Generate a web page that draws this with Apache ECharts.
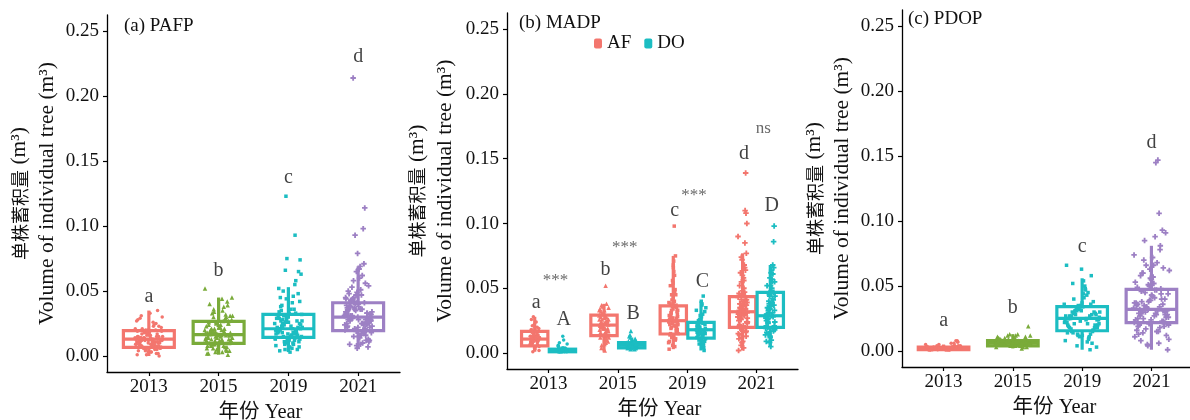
<!DOCTYPE html>
<html>
<head>
<meta charset="utf-8">
<script src="https://cdn.jsdelivr.net/npm/echarts@6/dist/echarts.min.js"></script>
<style>
html, body { margin: 0; padding: 0; background: #fff; }
#main { width: 1190px; height: 420px; }
</style>
</head>
<body>
<div id="main"></div>
<script>
// 年份与刻度
var years = ['2013', '2015', '2019', '2021'];
var yTicks = [0, 0.05, 0.10, 0.15, 0.20, 0.25];

// (a) PAFP 单株蓄积量
var pafp2013 = [0.012,0.008,0.015,0.003,0.019,0.011,0.006,0.022,0.014,0.009,0.017,0.001,0.013,0.026,0.007,0.010,0.016,0.004,0.020,0.012,0.030,0.009,0.014,0.002,0.018,0.011,0.024,0.006,0.013,0.033,0.008,0.015,0.005,0.021,0.010,0.017,0.000,0.012,0.028,0.007,0.014,0.019,0.003,0.011,0.035,0.016,0.009,0.023,0.013,0.006,0.018,0.010,0.025,0.004,0.015,0.012,0.031,0.008,0.020,0.001,
    0.010,0.014,0.007,0.016,0.012,0.005,0.018,0.009,0.013,0.021,0.011,0.006,0.015,0.008,0.019,0.012,0.003,0.014,0.010,0.017,0.027,0.009,0.013,0.006,0.016,0.011,0.002,0.020,0.014,0.008,0.012,0.023,0.010,0.015,0.005,0.018,0.013,0.009,0.029,0.011];
var pafp2015 = [0.016,0.010,0.024,0.005,0.019,0.031,0.013,0.008,0.027,0.017,0.002,0.021,0.036,0.012,0.015,0.040,0.007,0.025,0.018,0.011,0.033,0.004,0.022,0.014,0.029,0.009,0.045,0.016,0.020,0.001,0.026,0.012,0.038,0.006,0.018,0.023,0.010,0.030,0.015,0.052,0.003,0.021,0.013,0.028,0.008,0.017,0.034,0.011,0.024,0.019,0.042,0.005,0.014,0.027,0.009,0.016,0.022,0.002,0.032,0.012,
    0.014,0.020,0.009,0.025,0.016,0.006,0.019,0.030,0.012,0.022,0.017,0.004,0.026,0.013,0.035,0.018,0.010,0.024,0.015,0.007,0.021,0.028,0.011,0.017,0.039,0.014,0.023,0.008,0.019,0.031,0.012,0.026,0.016,0.003,0.020,0.044,0.013,0.025,0.010,0.018];
var pafp2019 = [0.021,0.014,0.030,0.008,0.018,0.025,0.042,0.012,0.019,0.033,0.005,0.022,0.016,0.027,0.048,0.010,0.020,0.036,0.015,0.024,0.003,0.029,0.017,0.123,0.013,0.021,0.039,0.007,0.026,0.018,0.093,0.011,0.032,0.023,0.045,0.016,0.075,0.020,0.009,0.028,0.074,0.014,0.052,0.019,0.066,0.025,0.006,0.035,0.065,0.017,0.022,0.012,0.031,0.063,0.015,0.004,0.027,0.044,0.020,0.010,
    0.018,0.025,0.013,0.031,0.020,0.009,0.027,0.016,0.038,0.022,0.012,0.029,0.017,0.050,0.021,0.007,0.034,0.019,0.026,0.014,0.041,0.023,0.011,0.030,0.018,0.055,0.024,0.015,0.036,0.020,0.005,0.028,0.017,0.046,0.022,0.013,0.033,0.019,0.058,0.026];
var pafp2021 = [0.030,0.022,0.041,0.015,0.027,0.036,0.009,0.033,0.019,0.045,0.025,0.031,0.012,0.038,0.028,0.056,0.021,0.034,0.017,0.043,0.029,0.006,0.039,0.024,0.214,0.032,0.014,0.048,0.026,0.035,0.020,0.062,0.030,0.011,0.040,0.023,0.114,0.037,0.018,0.051,0.027,0.033,0.008,0.044,0.098,0.029,0.022,0.067,0.036,0.016,0.093,0.031,0.025,0.042,0.013,0.079,0.034,0.020,0.058,0.028,0.069,0.038,0.024,0.047,0.032,0.010,0.053,0.026,
    0.028,0.035,0.021,0.042,0.030,0.016,0.038,0.025,0.049,0.033,0.019,0.044,0.027,0.060,0.031,0.012,0.040,0.024,0.036,0.029,0.054,0.022,0.037,0.018,0.045,0.032,0.009,0.039,0.026,0.065,0.034,0.020,0.043,0.030,0.015,0.050,0.028,0.036,0.023,0.047,0.031,0.007,0.041,0.025,0.071];
// 箱线: 下须, Q1, 中位数, Q3, 上须
var pafpBox = [
    [0.000, 0.0067, 0.013, 0.0195, 0.035],
    [0.001, 0.0097, 0.0165, 0.0267, 0.045],
    [0.003, 0.0144, 0.021, 0.032, 0.053],
    [0.006, 0.0195, 0.030, 0.041, 0.069]
];
var pafpLetters = ['a', 'b', 'c', 'd'];
var pafpLetterY = [0.046, 0.066, 0.137, 0.230];

// (b) MADP  AF / DO
var madpAF2013 = [0.011,0.007,0.014,0.004,0.009,0.017,0.012,0.002,0.020,0.010,0.006,0.015,0.013,0.024,0.008,0.011,0.003,0.018,0.009,0.028,0.012,0.005,0.016,0.010,0.022,0.007,0.013,0.001,0.019,0.011,0.026,0.008,0.014,0.006,0.010,0.021,
    0.010,0.013,0.008,0.015,0.011,0.005,0.012,0.018,0.009,0.014,0.007,0.011,0.016,0.010,0.004,0.013,0.020,0.009,0.012,0.017];
var madpDO2013 = [0.002,0.001,0.003,0.002,0.004,0.001,0.002,0.003,0.006,0.002,0.001,0.003,0.013,0.002,0.004,0.001,0.002,0.010,0.003,0.002,0.001,0.005,0.002,0.003,0.001,0.002,0.008,0.003,
    0.002,0.001,0.003,0.002,0.002,0.004,0.001,0.003,0.002,0.007,0.002,0.001,0.003,0.002,0.005];
var madpAF2015 = [0.022,0.015,0.028,0.010,0.019,0.033,0.024,0.006,0.017,0.030,0.021,0.013,0.036,0.026,0.002,0.020,0.014,0.031,0.018,0.052,0.023,0.009,0.027,0.016,0.038,0.021,0.012,0.029,0.004,0.025,0.019,0.034,0.011,0.022,0.017,0.007,0.032,0.024,
    0.021,0.026,0.016,0.030,0.019,0.023,0.012,0.028,0.020,0.035,0.015,0.024,0.018,0.031,0.022,0.008,0.026,0.017,0.033,0.021,0.025,0.014,0.029,0.019,0.037];
var madpDO2015 = [0.006,0.004,0.008,0.005,0.007,0.003,0.006,0.009,0.005,0.011,0.006,0.004,0.007,0.014,0.005,0.008,0.006,0.003,0.017,0.007,0.005,0.006,0.010,0.004,0.008,0.006,0.012,0.005,0.007,0.006,
    0.006,0.007,0.005,0.008,0.006,0.004,0.007,0.009,0.005,0.006,0.008,0.005,0.013,0.007,0.006,0.004,0.009,0.006,0.007,0.005];
var madpAF2019 = [0.025,0.016,0.034,0.009,0.021,0.045,0.028,0.013,0.038,0.019,0.056,0.024,0.005,0.031,0.017,0.066,0.026,0.011,0.041,0.022,0.098,0.015,0.035,0.027,0.003,0.049,0.020,0.030,0.071,0.014,0.037,0.023,0.008,0.060,0.029,0.018,0.043,0.025,0.075,0.012,0.033,0.021,0.052,0.027,0.006,0.039,
    0.024,0.031,0.018,0.036,0.022,0.045,0.027,0.015,0.040,0.026,0.020,0.054,0.029,0.010,0.033,0.023,0.063,0.028,0.017,0.036,0.025,0.047,0.019,0.032,0.068];
var madpDO2019 = [0.018,0.012,0.023,0.007,0.015,0.028,0.020,0.004,0.017,0.033,0.013,0.021,0.009,0.026,0.016,0.044,0.019,0.011,0.037,0.014,0.002,0.024,0.018,0.030,0.010,0.022,0.040,0.016,0.006,0.020,0.035,0.013,0.025,0.017,
    0.017,0.021,0.014,0.025,0.019,0.010,0.023,0.016,0.029,0.018,0.012,0.022,0.032,0.015,0.020,0.008,0.026,0.018,0.038,0.014];
var madpAF2021 = [0.032,0.021,0.043,0.012,0.028,0.050,0.035,0.017,0.060,0.025,0.039,0.006,0.031,0.046,0.022,0.139,0.034,0.015,0.068,0.027,0.041,0.009,0.030,0.110,0.055,0.024,0.037,0.019,0.108,0.033,0.002,0.047,0.026,0.100,0.036,0.014,0.064,0.029,0.090,0.040,0.020,0.077,0.032,0.011,0.085,0.044,0.023,0.058,0.038,0.016,0.072,0.030,
    0.030,0.038,0.024,0.045,0.033,0.019,0.041,0.028,0.056,0.035,0.013,0.048,0.031,0.066,0.026,0.039,0.021,0.052,0.034,0.008,0.043,0.029,0.062,0.037,0.017,0.046,0.032,0.074,0.027,0.004];
var madpDO2021 = [0.029,0.020,0.047,0.013,0.025,0.055,0.034,0.018,0.062,0.030,0.041,0.008,0.027,0.050,0.023,0.098,0.036,0.016,0.068,0.031,0.044,0.010,0.026,0.086,0.058,0.021,0.039,0.015,0.033,0.005,0.052,0.028,0.045,0.019,0.064,0.024,0.037,0.012,0.030,
    0.031,0.040,0.024,0.048,0.035,0.017,0.044,0.028,0.057,0.033,0.021,0.052,0.029,0.061,0.038,0.014,0.046,0.026,0.066,0.034,0.009,0.042,0.027,0.055,0.036];
var madpBoxAF = [
    [0.001, 0.0056, 0.0108, 0.0167, 0.028],
    [0.001, 0.0134, 0.0216, 0.0293, 0.038],
    [0.003, 0.0147, 0.025, 0.0365, 0.075],
    [0.002, 0.0198, 0.0319, 0.0435, 0.077]
];
var madpBoxDO = [
    [0.000, 0.001, 0.002, 0.003, 0.005],
    [0.002, 0.004, 0.006, 0.008, 0.012],
    [0.002, 0.0116, 0.018, 0.0237, 0.040],
    [0.005, 0.0198, 0.0288, 0.0468, 0.068]
];
var madpLettersAF = ['a', 'b', 'c', 'd'];
var madpLetterYAF = [0.0386, 0.064, 0.110, 0.154];
var madpLettersDO = ['A', 'B', 'C', 'D'];
var madpLetterYDO = [0.0255, 0.030, 0.0548, 0.114];
var madpSig = ['***', '***', '***', 'ns'];
var madpSigY = [0.0586, 0.084, 0.124, 0.176];

// (c) PDOP
var pdop2013 = [0.002,0.001,0.003,0.002,0.001,0.004,0.002,0.003,0.001,0.002,0.007,0.003,0.001,0.002,0.005,0.002,0.001,0.003,0.008,0.002,0.001,0.002,0.004,0.003,0.001,0.002,0.006,0.002,0.003,0.001,0.002,0.008,0.002,0.001,0.003,0.002,0.004,0.001,0.002,0.003,
    0.002,0.003,0.001,0.002,0.004,0.002,0.001,0.003,0.002,0.005,0.001,0.002,0.003,0.002,0.001,0.006,0.002,0.003,0.001,0.002,0.004,0.002,0.003,0.001,0.002,0.007,0.002,0.001,0.003,0.002];
var pdop2015 = [0.006,0.004,0.008,0.005,0.007,0.003,0.006,0.010,0.005,0.009,0.006,0.002,0.007,0.012,0.005,0.008,0.006,0.004,0.011,0.007,0.005,0.019,0.006,0.009,0.003,0.008,0.006,0.013,0.005,0.007,0.004,0.010,0.006,0.008,0.005,0.012,0.007,0.006,0.004,0.009,
    0.006,0.007,0.005,0.008,0.006,0.004,0.009,0.006,0.007,0.005,0.011,0.006,0.008,0.004,0.007,0.006,0.010,0.005,0.007,0.013,0.006,0.008,0.005,0.003,0.007,0.009,0.006,0.012,0.005,0.008];
var pdop2019 = [0.025,0.016,0.033,0.008,0.021,0.040,0.028,0.012,0.019,0.036,0.004,0.026,0.047,0.015,0.030,0.023,0.066,0.010,0.031,0.018,0.054,0.027,0.006,0.035,0.022,0.043,0.014,0.029,0.063,0.020,0.001,0.032,0.024,0.050,0.017,0.038,0.011,0.027,0.045,0.021,0.003,0.034,0.025,0.058,0.013,0.030,
    0.024,0.030,0.018,0.035,0.022,0.011,0.028,0.020,0.041,0.026,0.015,0.032,0.023,0.007,0.029,0.019,0.037,0.025,0.013,0.031,0.021,0.048,0.027,0.016,0.034,0.022,0.009,0.030,0.024,0.044,0.018,0.028,0.012,0.036,0.025,0.052,0.020,0.031,0.014,0.027];
var pdop2021 = [0.032,0.022,0.047,0.014,0.028,0.055,0.036,0.018,0.066,0.026,0.041,0.008,0.031,0.050,0.024,0.147,0.035,0.012,0.072,0.029,0.044,0.005,0.033,0.145,0.060,0.021,0.039,0.016,0.106,0.030,0.001,0.052,0.027,0.093,0.038,0.011,0.068,0.025,0.091,0.043,0.019,0.081,0.034,0.009,0.088,0.046,0.023,0.063,0.037,0.015,0.085,0.031,0.057,0.020,0.040,0.004,0.074,0.028,
    0.030,0.040,0.024,0.049,0.034,0.017,0.044,0.027,0.058,0.036,0.021,0.053,0.031,0.070,0.026,0.042,0.013,0.048,0.033,0.062,0.029,0.038,0.019,0.056,0.035,0.006,0.045,0.028,0.066,0.032,0.023,0.051,0.037,0.015,0.060,0.030,0.043,0.025,0.078,0.034,0.020,0.047,0.029,0.064,0.039];
var pdopBox = [
    [0.000, 0.001, 0.002, 0.003, 0.005],
    [0.002, 0.004, 0.006, 0.008, 0.013],
    [0.001, 0.0156, 0.0251, 0.0341, 0.056],
    [0.001, 0.0218, 0.032, 0.0474, 0.081]
];
var pdopLetters = ['a', 'b', 'c', 'd'];
var pdopLetterY = [0.023, 0.033, 0.080, 0.160];

var FONT = "'Liberation Serif', 'Noto Sans CJK SC', serif";
var yearColors = ['#F3766E', '#7AAB3A', '#1CBDC2', '#9D80C4'];
var colAF = '#F3766E', colDO = '#1CBDC2';
var shapes = ['circle', 'triangle', 'rect', 'path://M2,0H4V2H6V4H4V6H2V4H0V2H2Z'];
var shapeSize = [3.5, 4.5, 3.5, 5.5];

var myChart = echarts.init(document.getElementById('main'));

//抖动点
function jitter(list, center, half, seed) {
    var out = [];
    for (var i = 0; i < list.length; i++) {
        var f = ((i + 1) * 0.618034 + seed) % 1;
        out.push([center + (f - 0.5) * 2 * half, list[i]]);
    }
    return out;
}

function pointSeries(idx, name, list, center, half, yi, color, seed) {
    return {
        name: name,
        type: 'scatter',
        xAxisIndex: idx, yAxisIndex: idx,
        symbol: shapes[yi],
        symbolSize: shapeSize[yi],
        itemStyle: {color: color, opacity: 1},
        silent: true,
        z: 3,
        data: jitter(list, center, half, seed)
    };
}

//箱线图 (自定义)
function boxSeries(idx, stats, centers, width, colors) {
    var rows = [];
    for (var i = 0; i < stats.length; i++) {
        rows.push([centers[i]].concat(stats[i]));
    }
    return {
        type: 'custom',
        xAxisIndex: idx, yAxisIndex: idx,
        silent: true,
        z: 2,
        data: rows,
        renderItem: function (params, api) {
            var x = api.value(0);
            var half = api.size([width, 0])[0] / 2;
            var c = colors[params.dataIndex];
            var lo = api.coord([x, api.value(1)]),
                q1 = api.coord([x, api.value(2)]),
                md = api.coord([x, api.value(3)]),
                q3 = api.coord([x, api.value(4)]),
                hi = api.coord([x, api.value(5)]);
            var st = {stroke: c, lineWidth: 3.2, fill: null};
            return {
                type: 'group',
                children: [
                    {type: 'line', shape: {x1: lo[0], y1: lo[1], x2: q1[0], y2: q1[1]}, style: st},
                    {type: 'line', shape: {x1: q3[0], y1: q3[1], x2: hi[0], y2: hi[1]}, style: st},
                    {type: 'rect', shape: {x: q1[0] - half, y: q3[1], width: half * 2, height: q1[1] - q3[1]}, style: st},
                    {type: 'line', shape: {x1: md[0] - half, y1: md[1], x2: md[0] + half, y2: md[1]}, style: st}
                ]
            };
        }
    };
}

//文字标注
function textSeries(idx, xs, ys, texts, color, size, offset) {
    var d = [];
    for (var i = 0; i < texts.length; i++) {
        d.push({value: [xs[i], ys[i]], name: texts[i]});
    }
    return {
        type: 'scatter',
        xAxisIndex: idx, yAxisIndex: idx,
        symbolSize: 0.01,
        itemStyle: {color: 'rgba(0,0,0,0)'},
        silent: true,
        z: 5,
        label: {
            show: true, position: 'inside', formatter: '{b}',
            color: color, fontSize: size, fontFamily: FONT, offset: offset || [0, 0]
        },
        data: d
    };
}

function xAxisOpt(idx) {
    return {
        type: 'value', gridIndex: idx, min: 0.4, max: 4.6,
        axisLine: {show: true, onZero: false, lineStyle: {color: '#000', width: 1.3}},
        axisTick: {show: true, length: 4, customValues: [1, 2, 3, 4], lineStyle: {color: '#000', width: 1.2}},
        axisLabel: {
            customValues: [1, 2, 3, 4], margin: 6,
            formatter: function (v) { return years[Math.round(v) - 1]; },
            fontSize: 19, color: '#111', fontFamily: FONT
        },
        splitLine: {show: false},
        name: '年份 Year', nameLocation: 'middle', nameGap: 28,
        nameTextStyle: {fontSize: 20.5, color: '#111', fontFamily: FONT, padding: [0, 0, 0, 14]}
    };
}

function yAxisOpt(idx, gap) {
    return {
        type: 'value', gridIndex: idx, min: -0.0123, max: 0.2625,
        axisLine: {show: true, onZero: false, lineStyle: {color: '#000', width: 1.3}},
        axisTick: {show: true, length: 4, customValues: yTicks, lineStyle: {color: '#000', width: 1.2}},
        axisLabel: {
            customValues: yTicks,
            formatter: function (v) { return v.toFixed(2); },
            fontSize: 19, color: '#111', fontFamily: FONT
        },
        splitLine: {show: false},
        name: '{cn|单株蓄积量} (m³)\nVolume of individual tree (m³)',
        nameLocation: 'middle', nameRotate: 90, nameGap: gap,
        nameTextStyle: {
            fontSize: 21.5, lineHeight: 28, color: '#111', fontFamily: FONT, align: 'center',
            rich: {cn: {fontSize: 18, lineHeight: 28, color: '#111', fontFamily: "'Noto Sans CJK SC', sans-serif"}}
        }
    };
}

var centers = [1, 2, 3, 4];
var afC = centers.map(function (c) { return c - 0.2; });
var doC = centers.map(function (c) { return c + 0.2; });

var series = [];
//(a)
series.push(boxSeries(0, pafpBox, centers, 0.73, yearColors));
[pafp2013, pafp2015, pafp2019, pafp2021].forEach(function (list, i) {
    series.push(pointSeries(0, years[i], list, centers[i], 0.2, i, yearColors[i], i * 0.29));
});
series.push(textSeries(0, centers, pafpLetterY, pafpLetters, '#111', 20));
//(b)
series.push(boxSeries(1, madpBoxAF, afC, 0.38, [colAF, colAF, colAF, colAF]));
series.push(boxSeries(1, madpBoxDO, doC, 0.38, [colDO, colDO, colDO, colDO]));
[madpAF2013, madpAF2015, madpAF2019, madpAF2021].forEach(function (list, i) {
    series.push(pointSeries(1, 'AF', list, afC[i], 0.07, i, colAF, i * 0.31));
});
[madpDO2013, madpDO2015, madpDO2019, madpDO2021].forEach(function (list, i) {
    series.push(pointSeries(1, 'DO', list, doC[i], 0.07, i, colDO, i * 0.17 + 0.5));
});
series.push(textSeries(1, centers.map(function (c) { return c - 0.18; }), madpLetterYAF, madpLettersAF, '#111', 20));
series.push(textSeries(1, centers.map(function (c) { return c + 0.22; }), madpLetterYDO, madpLettersDO, '#111', 20));
series.push(textSeries(1, centers.map(function (c) { return c + 0.1; }), madpSigY, madpSig, '#444', 17, [0, 3]));
//(c)
series.push(boxSeries(2, pdopBox, centers, 0.73, yearColors));
[pdop2013, pdop2015, pdop2019, pdop2021].forEach(function (list, i) {
    series.push(pointSeries(2, years[i], list, centers[i], 0.26, i, yearColors[i], i * 0.23 + 0.1));
});
series.push(textSeries(2, centers, pdopLetterY, pdopLetters, '#111', 20));

var titleStyle = {fontSize: 19, fontWeight: 'normal', color: '#111', fontFamily: FONT};
var option = {
    animation: false,
    backgroundColor: '#fff',
    title: [
        {text: '(a) PAFP', left: 124, top: 17, padding: 0, textStyle: titleStyle},
        {text: '(b) MADP', left: 519, top: 14, padding: 0, textStyle: titleStyle},
        {text: '(c) PDOP', left: 908, top: 10, padding: 0, textStyle: titleStyle}
    ],
    legend: {
        data: ['AF', 'DO'],
        left: 594, top: 34, padding: 0,
        icon: 'roundRect', itemWidth: 8, itemHeight: 10, itemGap: 13,
        textStyle: {fontSize: 19, color: '#111', fontFamily: FONT},
        selectedMode: false
    },
    grid: [
        {left: 107, top: 15, width: 293, height: 357, outerBoundsMode: 'none'},
        {left: 507, top: 13, width: 291, height: 356, outerBoundsMode: 'none'},
        {left: 902, top: 10, width: 291, height: 357, outerBoundsMode: 'none'}
    ],
    xAxis: [xAxisOpt(0), xAxisOpt(1), xAxisOpt(2)],
    yAxis: [yAxisOpt(0, 45), yAxisOpt(1, 48), yAxisOpt(2, 45)],
    series: series
};

myChart.setOption(option);
</script>
</body>
</html>
